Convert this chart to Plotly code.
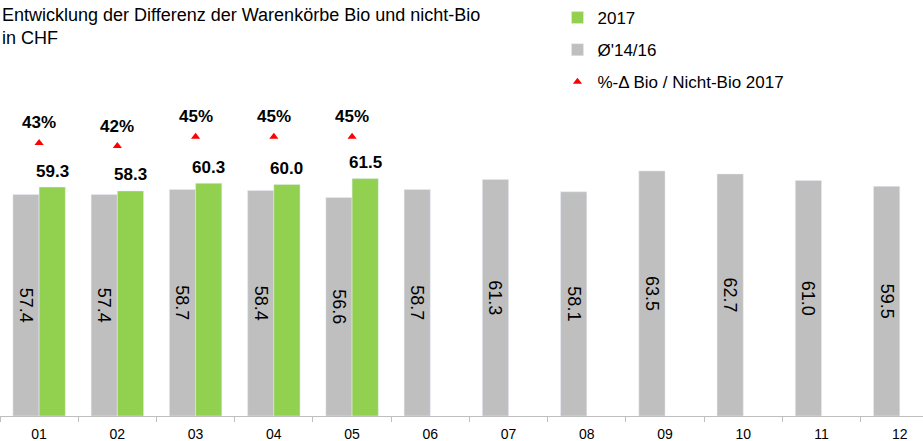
import plotly.graph_objects as go

months = ["01", "02", "03", "04", "05", "06", "07", "08", "09", "10", "11", "12"]
avg_14_16 = [57.4, 57.4, 58.7, 58.4, 56.6, 58.7, 61.3, 58.1, 63.5, 62.7, 61.0, 59.5]
val_2017 = [59.3, 58.3, 60.3, 60.0, 61.5, None, None, None, None, None, None, None]
pct_months = ["01", "02", "03", "04", "05"]
pct_diff = [43, 42, 45, 45, 45]

GRAY = "#BFBFBF"
GREEN = "#92D050"
FONT = "Liberation Sans, Arial, sans-serif"

fig = go.Figure()
fig.add_trace(go.Bar(
    x=months, y=avg_14_16, name="Ø'14/16", marker_color=GRAY,
    text=[f"{v:.1f}" for v in avg_14_16], textposition="inside",
    insidetextanchor="middle", textangle=90,
    insidetextfont=dict(size=18, color="#000000", family=FONT),
    constraintext="none", legendrank=2, legendgroup="a",
))
fig.add_trace(go.Bar(
    x=months, y=val_2017, name="2017", marker_color=GREEN,
    legendrank=1, legendgroup="b",
))
fig.add_trace(go.Scatter(
    x=pct_months, y=pct_diff, yaxis="y2", mode="markers",
    name="%-Δ Bio / Nicht-Bio 2017",
    marker=dict(symbol="triangle-up", color="#FF0000", size=8),
    legendrank=3, legendgroup="c",
))

# value labels above the 2017 bars
for i, v in enumerate(val_2017):
    if v is None:
        continue
    fig.add_annotation(x=i, y=v, text=f"<b>{v:.1f}</b>", showarrow=False,
                       xshift=13, yshift=16,
                       font=dict(size=17, color="#000000", family=FONT))

# percentage labels above the triangles
for m, p in zip(pct_months, pct_diff):
    fig.add_annotation(x=months.index(m), y=p, yref="y2", text=f"<b>{p}%</b>",
                       showarrow=False, yshift=20,
                       font=dict(size=17, color="#000000", family=FONT))

fig.add_annotation(xref="paper", yref="paper", x=0.0, y=1.0, xanchor="left", yanchor="top",
                   text="Entwicklung der Differenz der Warenkörbe Bio und nicht-Bio<br>in CHF",
                   showarrow=False, align="left", yshift=97,
                   font=dict(size=18, color="#000000", family=FONT))

fig.update_layout(
    width=923, height=441,
    margin=dict(l=0, r=0, t=100, b=25),
    plot_bgcolor="white", paper_bgcolor="white",
    barmode="group", bargap=0.33, bargroupgap=0,
    font=dict(family=FONT, size=14, color="#000000"),
    showlegend=True,
    legend=dict(x=0.604, xanchor="left", y=1.0, yanchor="top", yref="container",
                font=dict(size=17, family=FONT, color="#000000"),
                tracegroupgap=7, bgcolor="rgba(0,0,0,0)"),
    xaxis=dict(type="category", range=[-0.5, 11.297], showline=True, linecolor="#BFBFBF",
               ticks="outside", tickson="boundaries", ticklen=5, tickcolor="#BFBFBF",
               tickfont=dict(size=14, family=FONT), showgrid=False, ticklabelstandoff=5),
    yaxis=dict(range=[0, 81.87], visible=False, showgrid=False),
    yaxis2=dict(range=[-44.8, 56.8], overlaying="y", visible=False, showgrid=False),
)

fig.write_html("out.html", config={"displayModeBar": False},
               post_script="document.body.style.margin='0';")
